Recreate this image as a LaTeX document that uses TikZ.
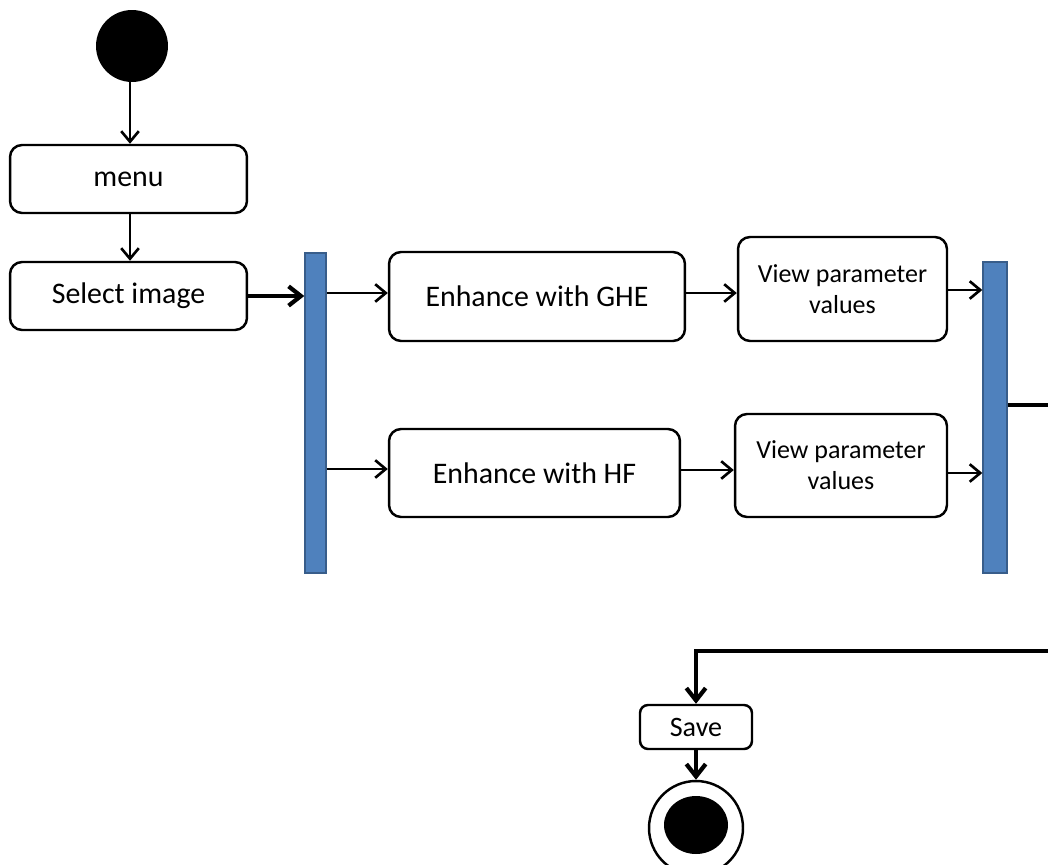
\documentclass[tikz,border=0pt]{standalone}
\usepackage{fontspec}
\setmainfont{Carlito}
\usetikzlibrary{arrows.meta,calc}
\definecolor{barfill}{HTML}{4F81BD}
\definecolor{barline}{HTML}{385D8A}
\tikzset{
  act/.style={draw=black, line width=1.4pt, rounded corners=0.24cm, fill=white, inner sep=2pt, align=center, font=\fontsize{17}{20}\selectfont},
  vpbox/.style={act, font=\fontsize{14.8}{17.6}\selectfont},
  forkbar/.style={draw=barline, line width=0.8pt, fill=barfill, inner sep=0pt},
  arr/.style={line width=1.5pt, -{Straight Barb[length=6pt,width=10pt]}},
  thickarr/.style={line width=2.4pt, -{Straight Barb[length=7pt,width=11pt]}},
  thickline/.style={line width=2.4pt},
}
\begin{document}
\begin{tikzpicture}[x=0.02cm, y=-0.02cm]
\useasboundingbox (0,0) rectangle (1048,865);
\clip (0,0) rectangle (1048,865);
% nodes
\node[circle, fill=black, minimum size=1.44cm, inner sep=0pt] (start) at (132,46) {};
\node[act, minimum width=4.74cm, minimum height=1.36cm] (menu) at (128.5,179) {menu};
\node[act, minimum width=4.74cm, minimum height=1.36cm] (sel) at (128.5,296) {Select image};
\node[forkbar, minimum width=0.42cm, minimum height=6.4cm] (bar1) at (315.5,413) {};
\node[act, minimum width=5.92cm, minimum height=1.78cm] (ghe) at (537,296.5) {Enhance with GHE};
\node[act, minimum width=5.82cm, minimum height=1.76cm] (hf) at (534.5,473) {Enhance with HF};
\node[vpbox, minimum width=4.18cm, minimum height=2.08cm] (vp1) at (842.5,289) {View parameter\\values};
\node[vpbox, minimum width=4.24cm, minimum height=2.06cm] (vp2) at (841,465.5) {View parameter\\values};
\node[forkbar, minimum width=0.48cm, minimum height=6.22cm] (bar2) at (995,417.5) {};
\node[act, rounded corners=0.16cm, minimum width=2.24cm, minimum height=0.88cm, inner sep=1pt, font=\fontsize{16}{19}\selectfont] (save) at (696,727) {Save};
\node[circle, draw=black, line width=1.4pt, minimum size=1.88cm, inner sep=0pt] (fin) at (696,828) {};
\fill ([yshift=0.06cm]fin.center) ellipse [x radius=0.64cm, y radius=0.58cm];
\coordinate (r1) at (1052,405);
\coordinate (r2) at (1052,651);
% connectors
\draw[arr] (start.south -| 130,0) -- (menu.north -| 130,0);
\draw[arr] (menu.south -| 130,0) -- (sel.north -| 130,0);
\draw[thickarr] (sel.east) -- (sel.east -| bar1.west);
\draw[arr] (bar1.east |- 0,293) -- (ghe.west |- 0,293);
\draw[arr] (bar1.east |- 0,469) -- (hf.west |- 0,469);
\draw[arr] (ghe.east |- 0,293) -- (vp1.west |- 0,293);
\draw[arr] (hf.east |- 0,470) -- (vp2.west |- 0,470);
\draw[arr] (vp1.east |- 0,290) -- (bar2.west |- 0,290);
\draw[arr] (vp2.east |- 0,473) -- (bar2.west |- 0,473);
\draw[thickline] (r1 -| bar2.east) -- (r1);
\draw[thickarr] (r2) -- (r2 -| save.north) -- (save.north);
\draw[thickarr] (save.south) -- (fin.north);
\end{tikzpicture}
\end{document}
